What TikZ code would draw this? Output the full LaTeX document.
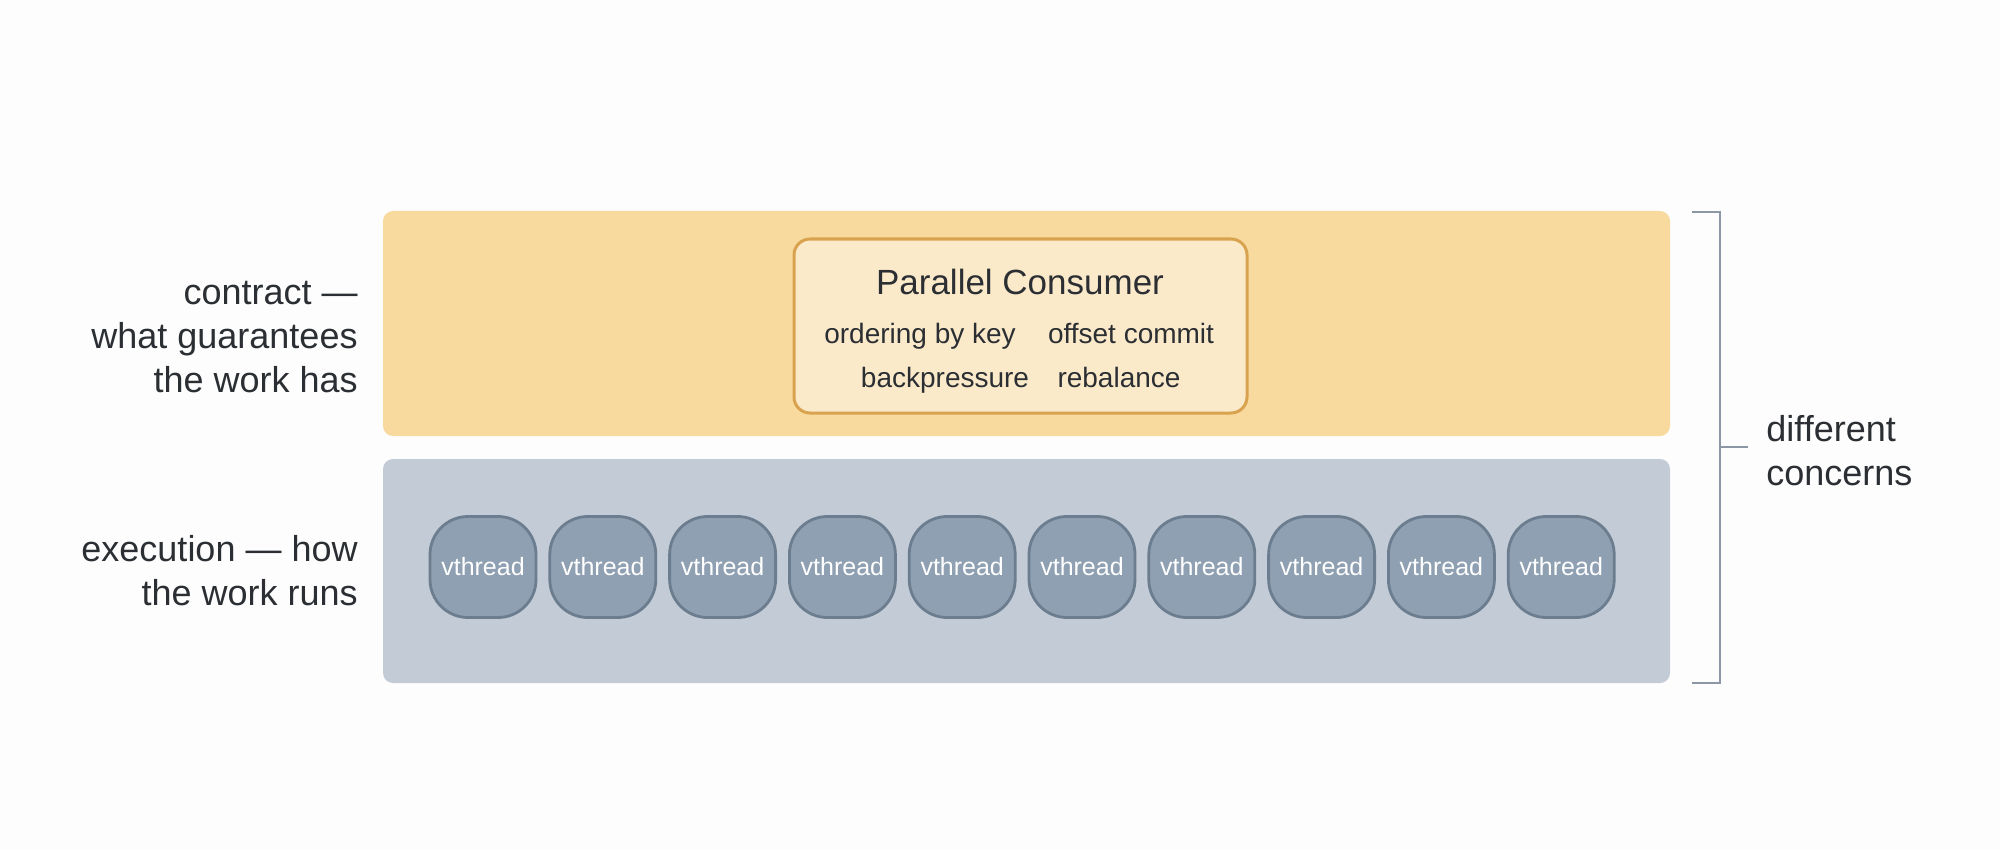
\documentclass[tikz,border=0pt]{standalone}
\usepackage{fontspec}
\setmainfont{Liberation Sans}
\definecolor{bg}{HTML}{FDFDFD}
\definecolor{topband}{HTML}{F8DA9F}
\definecolor{botband}{HTML}{C2CBD6}
\definecolor{pcfill}{HTML}{FBEACA}
\definecolor{pcdraw}{HTML}{D9A24E}
\definecolor{vtfill}{HTML}{8FA0B2}
\definecolor{vtdraw}{HTML}{6B7D8F}
\definecolor{brk}{HTML}{8C97A6}
\definecolor{ink}{HTML}{2B2F33}
\tikzset{
  band/.style={inner sep=0pt, rounded corners=5pt},
  pcbox/.style={draw=pcdraw, fill=pcfill, line width=1.5pt, rounded corners=8pt},
  vt/.style={draw=vtdraw, fill=vtfill, line width=1.4pt, rounded corners=19pt,
    minimum width=53pt, minimum height=50.5pt, inner sep=0pt,
    text=white, font=\fontsize{12.5}{15}\selectfont},
  lbl/.style={text=ink, font=\fontsize{18}{22}\selectfont, inner sep=0pt},
  sub/.style={text=ink, font=\fontsize{14}{17}\selectfont, inner sep=0pt, anchor=base},
  bracket/.style={draw=brk, line width=1.2pt}
}
\begin{document}
\begin{tikzpicture}[x=0.5pt,y=-0.5pt]
\fill[bg] (0,0) rectangle (2000,850);
\useasboundingbox (0,0) rectangle (2000,850);
% bands
\fill[topband, rounded corners=5pt] (383,211) rectangle (1670,436);
\coordinate (contract) at (1026,323);
\fill[botband, rounded corners=5pt] (383,459) rectangle (1670,683);
\coordinate (exec) at (1026,571);
% parallel consumer box
\node[pcbox, minimum width=226.5pt, minimum height=87pt] (pc) at (1020.5,326) {};
\node[text=ink, font=\fontsize{17.5}{21}\selectfont, inner sep=0pt, anchor=base] (pctitle) at (1020,294) {Parallel Consumer};
\node[sub] (ord) at (920,343) {ordering by key};
\node[sub] (off) at (1131,343) {offset commit};
\node[sub] (bp) at (945,387) {backpressure};
\node[sub] (reb) at (1119,387) {rebalance};
% vthreads
\foreach \i in {0,...,9} {
  \node[vt] (vt\i) at (483+119.8*\i,567) {vthread};
}
% left labels
\node[lbl, align=right, anchor=east] (lcontract) at (358,337) {contract —\\what guarantees\\the work has};
\node[lbl, align=right, anchor=east] (lexec) at (358,571) {execution — how\\the work runs};
% bracket
\coordinate (btop) at (1692,212);
\coordinate (btopr) at (1720,212);
\coordinate (bbotr) at (1720,683);
\coordinate (bbot) at (1692,683);
\coordinate (bmid) at (1720,447);
\coordinate (btick) at (1748,447);
\draw[bracket] (btop) -- (btopr) -- (bbotr) -- (bbot);
\draw[bracket] (bmid) -- (btick);
\node[lbl, align=left, anchor=west] (diff) at (1766,451) {different\\concerns};
\end{tikzpicture}
\end{document}
